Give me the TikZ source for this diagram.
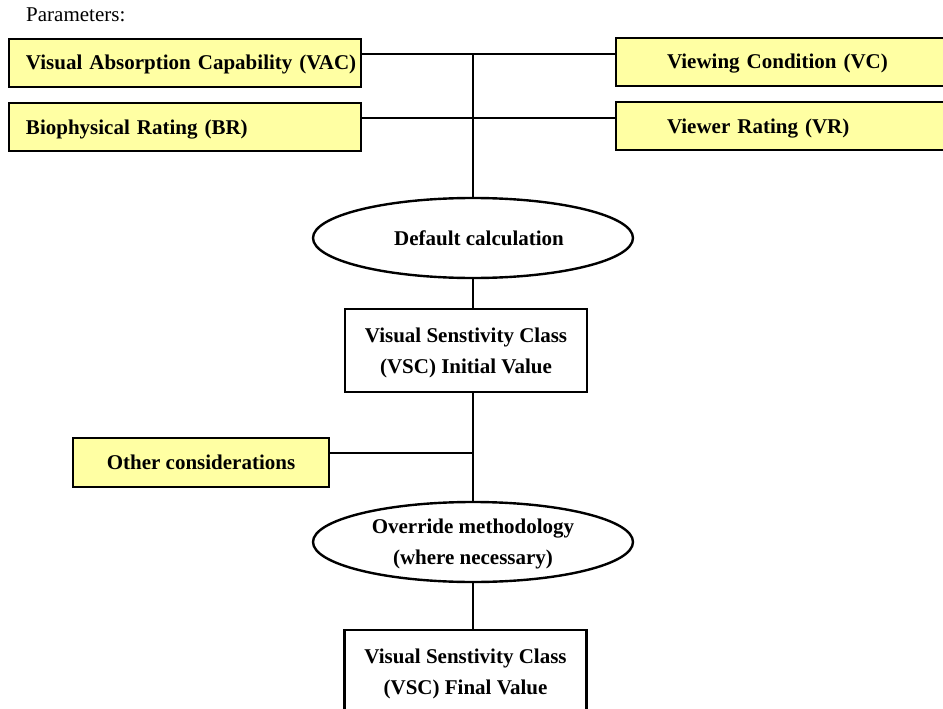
\documentclass[tikz,border=0pt]{standalone}
\usepackage{fontspec}
\setmainfont{Liberation Serif}
\usetikzlibrary{shapes.geometric}
\definecolor{parfill}{HTML}{FFFFA3}
\tikzset{
  lbl/.style={font=\fontsize{21}{31}\selectfont\bfseries, text height=14pt, text depth=0pt},
  twoline/.style={text height=45pt, text depth=0pt},
  parbox/.style={lbl, draw=black, line width=2.6pt, fill=parfill, rectangle, minimum height=48pt, inner sep=0pt},
  leftbox/.style={parbox, align=left},
  whitebox/.style={lbl, twoline, draw=black, line width=2.6pt, fill=white, rectangle, minimum width=242pt, minimum height=83pt, align=center, inner sep=0pt},
  oval/.style={lbl, draw=black, line width=2.4pt, fill=white, ellipse, minimum width=320pt, minimum height=80pt, align=center, inner sep=0pt},
  conn/.style={draw=black, line width=2pt}
}
\begin{document}
\begin{tikzpicture}[x=1pt,y=-1pt]
\useasboundingbox (0,0) rectangle (943,709);
\clip (0,0) rectangle (943,709);
\node[font=\fontsize{21}{25}\selectfont, anchor=west, inner sep=0pt] (title) at (26,15) {Parameters:};
\coordinate (j1) at (473,54);
\coordinate (j2) at (473,118);
\coordinate (j3) at (473,453);
\node[leftbox, text width=352pt] (vac) at (185,63) {\hspace*{17pt}Visual Absorption Capability (VAC)};
\node[leftbox, text width=352pt] (br) at (185,127) {\hspace*{17pt}Biophysical Rating (BR)};
\node[leftbox, text width=360pt] (vc) at (796,62) {\hspace*{51pt}Viewing Condition (VC)};
\node[leftbox, text width=360pt] (vr) at (796,126) {\hspace*{51pt}Viewer Rating (VR)};
\node[oval] (dc) at (473,238) {\hspace*{12pt}Default calculation};
\node[whitebox] (init) at (466,350.5) {Visual Senstivity Class\\(VSC) Initial Value};
\node[parbox, minimum width=256pt, minimum height=49pt, align=center] (oc) at (201,462.5) {Other considerations};
\node[oval, twoline] (ov) at (473,542) {Override methodology\\(where necessary)};
\node[whitebox] (fin) at (465.5,671.5) {Visual Senstivity Class\\(VSC) Final Value};
\draw[conn] (vac.east |- j1) -- (vc.west |- j1);
\draw[conn] (br.east |- j2) -- (vr.west |- j2);
\draw[conn] (j1) -- (dc.north);
\draw[conn] (dc.south) -- (dc.south |- init.north);
\draw[conn] (dc.south |- init.south) -- (ov.north);
\draw[conn] (oc.east |- j3) -- (j3);
\draw[conn] (ov.south) -- (ov.south |- fin.north);
\end{tikzpicture}
\end{document}
